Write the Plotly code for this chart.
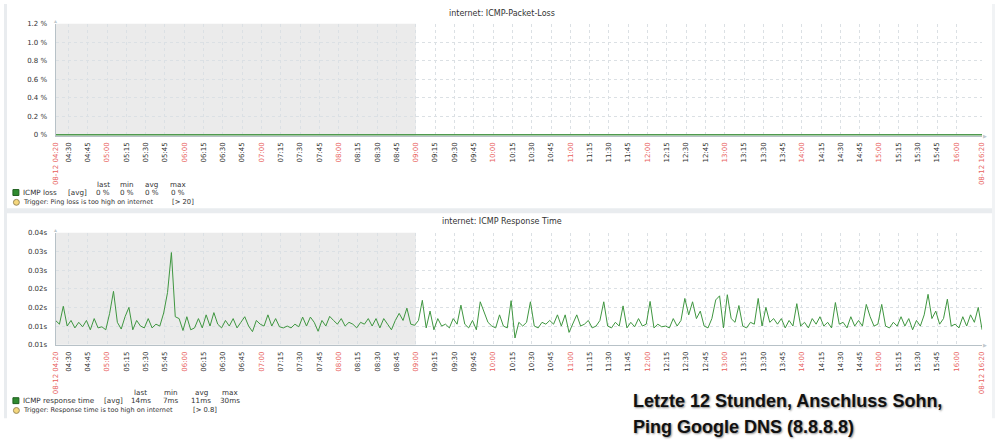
import pandas as pd
import plotly.graph_objects as go

# ---------------- data ----------------
start_time = "2019-08-12 04:20"
end_time = "2019-08-12 16:20"
shade_end = "2019-08-12 09:00"
step_minutes = 3

# ICMP response time (ms), one value every 3 minutes from 04:20 to 16:20
response_ms = [
    11.5, 10.5, 15.3, 10, 11.5, 9.5, 11, 9.8, 11.5, 9, 12, 9.5, 9.8, 9, 13.4, 19.3, 11, 9.2, 12.5, 15,
    9, 11.5, 10, 9.5, 12, 9.5, 10.5, 10, 13.5, 19, 29.7, 12.5, 12, 8.8, 12.5, 9, 9.5, 12, 9.5, 13,
    10, 13.6, 10.5, 9.5, 11.5, 10, 12, 9.5, 11, 12.5, 10, 8.5, 11.5, 10.5, 10, 13, 10, 12, 9.8, 9.5,
    10, 9.5, 10.5, 9.8, 12.4, 10, 12.4, 11, 8.6, 11.5, 10, 12.6, 11.5, 10.5, 12, 10, 11, 10.5, 9.5, 11,
    10.5, 12, 10, 12, 9.5, 12, 10.5, 9, 11.5, 13.4, 11.5, 14.8, 10.5, 10.2, 11.5, 16.9, 9.5, 14, 9, 12,
    10, 10.5, 9.5, 12, 10.5, 15.6, 10.5, 9.5, 11.5, 9, 16.5, 13.5, 11, 10, 9.5, 13, 10, 9.5, 16.8, 6.8,
    11, 10, 11, 16.5, 10, 9.5, 11, 10.5, 11.5, 10.5, 13, 10, 13, 8.3, 10.5, 13, 10, 10.5, 11.5, 9.5,
    10, 11.5, 16.5, 10, 9.5, 11, 10, 15.4, 9.5, 11, 9.8, 12, 10, 10.5, 16.6, 9.5, 10.5, 9.8, 10, 9.5,
    12, 10, 11.5, 17.4, 13, 16.5, 12, 14, 10, 9.5, 12, 17, 18.1, 9.5, 18.4, 12, 11, 15.5, 10, 9.5,
    11, 10.5, 17.4, 10, 15, 11, 12, 10.5, 12, 9.5, 11.5, 10, 16, 10, 11, 9.5, 12, 10.5, 12.5, 10,
    11, 9.5, 16.3, 10.5, 11, 9.5, 12.5, 10, 11.5, 10, 15.8, 12.5, 10, 10.5, 15.8, 10, 9.5, 11, 10, 12.5,
    10, 12, 9, 11.5, 10, 13, 18.5, 12, 14, 10.5, 12, 17.2, 10, 10.5, 9.5, 12.5, 10, 13, 11, 15, 9,
]
# ICMP packet loss (%) - zero throughout
loss_pct = [0] * len(response_ms)

loss_yticks = [0, 0.2, 0.4, 0.6, 0.8, 1.0, 1.2]
loss_ylabels = ["0 %", "0.2 %", "0.4 %", "0.6 %", "0.8 %", "1.0 %", "1.2 %"]
resp_yticks = [0.005, 0.010, 0.015, 0.020, 0.025, 0.030, 0.035]
resp_ylabels = ["0.01s", "0.01s", "0.02s", "0.02s", "0.03s", "0.03s", "0.04s"]

loss_legend = ["ICMP loss", "[avg]", "0 %", "0 %", "0 %", "0 %"]
resp_legend = ["ICMP response time", "[avg]", "14ms", "7ms", "11ms", "30ms"]
loss_trigger = ["Trigger: Ping loss is too high on internet", "[> 20]"]
resp_trigger = ["Trigger: Response time is too high on internet", "[> 0.8]"]
stat_headers = ["last", "min", "avg", "max"]

title_top = "internet: ICMP-Packet-Loss"
title_bottom = "internet: ICMP Response Time"
caption = ["Letzte 12 Stunden, Anschluss Sohn,", "Ping Google DNS (8.8.8.8)"]

# ---------------- derived ----------------
times = pd.date_range(start_time, periods=len(response_ms), freq=f"{step_minutes}min")
resp_s = [v / 1000 for v in response_ms]

tick_times = [pd.Timestamp(start_time)] + list(
    pd.date_range("2019-08-12 04:30", "2019-08-12 16:00", freq="15min")) + [pd.Timestamp(end_time)]
RED = "#e8605c"
tick_labels = []
for i, t in enumerate(tick_times):
    if i == 0 or i == len(tick_times) - 1:
        tick_labels.append(f"<span style='color:{RED}'>{t.strftime('%m-%d %H:%M')}</span>")
    elif t.minute == 0:
        tick_labels.append(f"<span style='color:{RED}'>{t.strftime('%H:%M')}</span>")
    else:
        tick_labels.append(t.strftime('%H:%M'))

W, H = 999, 441
def X(px):
    return px / W
def Y(py):
    return 1 - py / H

FONT = "DejaVu Sans"
GRID = "#dbe0e4"
AXIS = "#b7c1c7"
TXT = "#333333"

fig = go.Figure()
fig.add_trace(go.Scatter(x=times, y=loss_pct, mode="lines", xaxis="x", yaxis="y",
                         line=dict(color="#4f9a4f", width=1.8), hoverinfo="skip"))
fig.add_trace(go.Scatter(x=times, y=resp_s, mode="lines", xaxis="x2", yaxis="y2",
                         line=dict(color="#3f9640", width=1), hoverinfo="skip"))

xcommon = dict(
    type="date", range=[start_time, end_time], tickmode="array",
    tickvals=tick_times, ticktext=tick_labels, tickangle=-90,
    tickfont=dict(family=FONT, size=7, color=TXT),
    showgrid=True, gridcolor=GRID, griddash="dot", gridwidth=1,
    ticks="", ticklabelstandoff=3, zeroline=False,
    showline=True, linecolor=AXIS, linewidth=1,
)
ycommon = dict(
    tickmode="array", tickfont=dict(family=FONT, size=7, color=TXT),
    showgrid=True, gridcolor=GRID, griddash="dot", gridwidth=1,
    ticks="", ticklabelstandoff=6, zeroline=False,
    showline=True, linecolor=AXIS, linewidth=1,
)

fig.update_layout(
    width=W, height=H, margin=dict(l=0, r=0, t=0, b=0),
    paper_bgcolor="white", plot_bgcolor="white", showlegend=False,
    xaxis=dict(domain=[X(52), X(986)], anchor="y", **xcommon),
    yaxis=dict(domain=[Y(134), Y(20)], anchor="x", range=[-0.006, 1.2],
               tickvals=loss_yticks, ticktext=loss_ylabels, **ycommon),
    xaxis2=dict(domain=[X(52), X(986)], anchor="y2", **xcommon),
    yaxis2=dict(domain=[Y(347), Y(233)], anchor="x2", range=[0.005, 0.035],
                tickvals=resp_yticks, ticktext=resp_ylabels, **ycommon),
)

shapes = []
# outer frame bands
shapes.append(dict(type="rect", xref="paper", yref="paper", x0=0, x1=X(3), y0=Y(422), y1=1,
                   fillcolor="#e9ecef", line_width=0, layer="below"))
shapes.append(dict(type="rect", xref="paper", yref="paper", x0=0, x1=1, y0=Y(213), y1=Y(208),
                   fillcolor="#e9ecef", line_width=0, layer="below"))
shapes.append(dict(type="rect", xref="paper", yref="paper", x0=X(996), x1=1, y0=Y(422), y1=1,
                   fillcolor="#f1f3f5", line_width=0, layer="below"))
# shaded non-working time
for xr, yr in (("x", "y domain"), ("x2", "y2 domain")):
    shapes.append(dict(type="rect", xref=xr, yref=yr, x0=start_time, x1=shade_end, y0=0, y1=1,
                       fillcolor="#ebebeb", line_width=0, layer="below"))
# legend markers
for sq_y, circ_y in ((192, 202), (404, 414)):
    shapes.append(dict(type="rect", xref="paper", yref="paper", x0=X(9), x1=X(15),
                       y0=Y(sq_y + 3), y1=Y(sq_y - 3), fillcolor="#2f8a2f",
                       line=dict(color="#1d5e1d", width=1)))
    shapes.append(dict(type="circle", xref="paper", yref="paper", x0=X(9.5), x1=X(15.5),
                       y0=Y(circ_y + 3), y1=Y(circ_y - 3), fillcolor="#f5d77c",
                       line=dict(color="#9a8a5a", width=1)))
fig.update_layout(shapes=shapes)

ann = []
def txt(x, y, s, size=7.2, anchor="left", color=TXT, **kw):
    ann.append(dict(x=X(x), y=Y(y), xref="paper", yref="paper", text=s, showarrow=False,
                    xanchor=anchor, yanchor="middle",
                    font=dict(family=FONT, size=size, color=color), **kw))

txt(502, 10, title_top, size=8, anchor="center")
txt(502, 222, title_bottom, size=8, anchor="center")

# top legend
for h, cx in zip(stat_headers, [100, 124, 149, 175]):
    txt(cx, 184, h, anchor="center")
txt(17, 192, loss_legend[0])
txt(63, 192, loss_legend[1])
for v, cx in zip(loss_legend[2:], [100, 124, 149, 175]):
    txt(cx, 192, v, anchor="center")
txt(17, 202, loss_trigger[0], size=6.5)
txt(167, 202, loss_trigger[1], size=6.8)

# bottom legend
for h, cx in zip(stat_headers, [138, 168, 199, 228]):
    txt(cx, 396, h, anchor="center")
txt(17, 404, resp_legend[0])
txt(99, 404, resp_legend[1])
for v, cx in zip(resp_legend[2:], [138, 168, 199, 228]):
    txt(cx, 404, v, anchor="center")
txt(17, 414, resp_trigger[0], size=6.5)
txt(189, 414, resp_trigger[1], size=6.8)

# caption
for line, cy in zip(caption, [404, 431]):
    ann.append(dict(x=X(632), y=Y(cy), xref="paper", yref="paper", text=f"<b>{line}</b>",
                    showarrow=False, xanchor="left", yanchor="middle",
                    font=dict(family="Liberation Sans", size=18, color="#111111",
                              shadow="1px 1px 2px rgba(0,0,0,0.45)")))

# axis arrows
for ay in (17, 230):
    ann.append(dict(x=X(52), y=Y(ay), xref="paper", yref="paper", text="▲", showarrow=False,
                    font=dict(size=5, color="#c0c8cd"), xanchor="center", yanchor="middle"))
for ay in (134, 347):
    ann.append(dict(x=X(989), y=Y(ay), xref="paper", yref="paper", text="▶", showarrow=False,
                    font=dict(size=5, color="#c0c8cd"), xanchor="center", yanchor="middle"))

fig.update_layout(annotations=ann)
fig.write_html("out.html")
